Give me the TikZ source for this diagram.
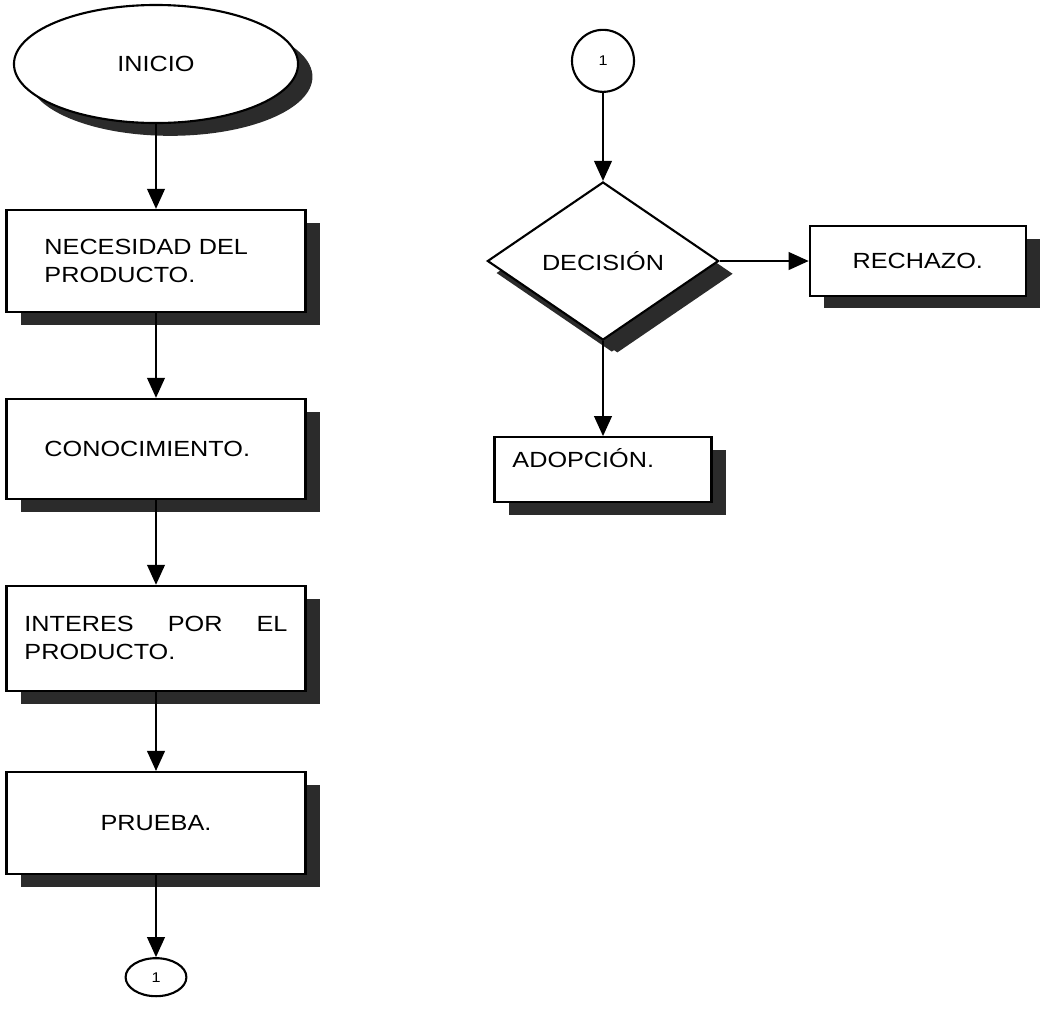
\documentclass[tikz,border=0pt]{standalone}
\usepackage{fontspec}
\setmainfont{Liberation Sans}[FakeStretch=1.15]
\usepackage{tikz}
\usetikzlibrary{
  arrows.meta,
  shapes.geometric,
  positioning,
  shadows
}
\definecolor{fcLine}{HTML}{000000}
\definecolor{fcShadow}{HTML}{2B2B2B}
\tikzset{
  fcnode/.style={
    draw=fcLine, fill=white, line width=1.5pt, font=\fontsize{15.6}{20}\selectfont,
    drop shadow={shadow xshift=0.36cm, shadow yshift=-0.32cm, fill=fcShadow, opacity=1}
  },
  fcbox/.style={fcnode, rectangle, align=left, inner xsep=0.95cm, inner ysep=0pt, text width=5.575cm, minimum height=2.55cm},
  fcstart/.style={fcnode, ellipse, minimum width=7.1cm, minimum height=2.95cm, inner sep=0pt},
  fcdecision/.style={fcnode, diamond, minimum width=5.78cm, minimum height=3.95cm, inner sep=0pt,
    drop shadow={shadow xshift=0.22cm, shadow yshift=-0.3cm, fill=fcShadow, opacity=1}},
  fcconnector/.style={draw=fcLine, fill=white, line width=1.5pt, ellipse, inner sep=0pt, font=\fontsize{10}{12}\selectfont},
  flow/.style={-{Triangle[length=0.5cm, width=0.44cm]}, line width=1.5pt, fcLine}
}
\begin{document}
\begin{tikzpicture}[x=0.025cm, y=-0.025cm, node distance=2.12cm]
  \useasboundingbox (0,0) rectangle (1044,1008);
  % left column
  \node[fcstart] (ini) at (156,64) {INICIO};
  \node[fcbox, below=of ini] (nec) {NECESIDAD DEL\\PRODUCTO.};
  \node[fcbox, below=of nec, minimum height=2.5cm] (con) {CONOCIMIENTO.};
  \node[fcbox, below=of con, minimum height=2.62cm, inner xsep=0.45cm, text width=6.575cm] (int)
    {INTERES\hfill POR\hfill EL\\PRODUCTO.};
  \node[fcbox, below=1.98cm of int, align=center] (pru) {PRUEBA.};
  \node[fcconnector, below=2.05cm of pru, minimum width=1.52cm, minimum height=0.95cm] (conA) {1};
  % right column
  \node[fcdecision] (dec) at (603,261) {DECISIÓN};
  \node[fcconnector, circle, above=2.2cm of dec, minimum size=1.55cm] (conB) {1};
  \node[fcbox, right=2.225cm of dec, inner xsep=0pt, text width=5.4cm, align=center, minimum height=1.73cm] (rech) {RECHAZO.};
  \node[fcbox, below=2.375cm of dec, inner xsep=0.45cm, text width=4.525cm, minimum height=1.63cm,
    text height=0.75cm, text depth=0.875cm] (adop) {ADOPCIÓN.};
  % connectors
  \draw[flow] (ini) -- (nec);
  \draw[flow] (nec) -- (con);
  \draw[flow] (con) -- (int);
  \draw[flow] (int) -- (pru);
  \draw[flow] (pru) -- (conA);
  \draw[flow] (conB) -- (dec);
  \draw[flow] (dec) -- (rech);
  \draw[flow] (dec) -- (adop);
\end{tikzpicture}
\end{document}
